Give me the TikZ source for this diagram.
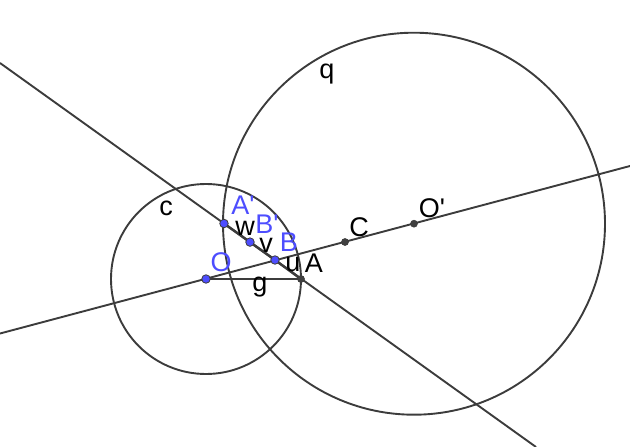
\documentclass[tikz,border=0pt]{standalone}
\usepackage{fontspec}
\setmainfont{Liberation Sans}[Ligatures=TeXOff]
\definecolor{ggblue}{RGB}{77,77,255}
\definecolor{ggline}{RGB}{60,60,60}
\definecolor{ggdot}{RGB}{64,64,64}
\newcommand{\pr}{'}
\tikzset{
  gline/.style={ggline, line width=1.9pt},
  gseg/.style={ggline, line width=2.5pt},
  bluept/.style={circle, fill=ggblue, draw=ggline, line width=0.8pt, inner sep=0pt, minimum size=8.5pt},
  blackpt/.style={circle, fill=ggdot, draw=ggline, line width=0.6pt, inner sep=0pt, minimum size=7pt},
  lab/.style={font=\fontsize{27}{27}\selectfont, inner sep=0pt, text=black},
  blab/.style={lab, text=ggblue},
}
\begin{document}
\begin{tikzpicture}[x=1pt,y=-1pt]
\useasboundingbox (0,0) rectangle (630,447);
% line ends
\coordinate (L1) at (0,63);
\coordinate (L2) at (536,447);
\coordinate (M1) at (0,333.5);
\coordinate (M2) at (630,166);
% points
\coordinate (pO) at (206,279);
\coordinate (pA) at (301,279);
\coordinate (pAp) at (224,223.5);
\coordinate (pBp) at (250,242.1);
\coordinate (pB) at (275,260);
\coordinate (pC) at (345,242);
\coordinate (pOp) at (414,223.7);
% circles
\draw[gline] (pO) circle[radius=95];
\draw[gline] (pOp) circle[radius=191];
% lines
\draw[gline] (L1) -- (L2);
\draw[gline] (M1) -- (M2);
% segments
\draw[gline] (pO) -- (pA);
\draw[gseg] (pAp) -- (pBp);
\draw[gseg] (pBp) -- (pB);
\draw[gseg] (pB) -- (pA);
% dots
\node[blackpt] (A) at (pA) {};
\node[blackpt] (C) at (pC) {};
\node[blackpt] (Op) at (pOp) {};
\node[bluept] (O) at (pO) {};
\node[bluept] (Ap) at (pAp) {};
\node[bluept] (Bp) at (pBp) {};
\node[bluept] (B) at (pB) {};
% labels
\node[lab] (lq) at (327,74) {q};
\node[lab] (lc) at (166,208) {c};
\node[blab] (lAp) at (243,205) {A\pr};
\node[lab] (lw) at (245,228) {w};
\node[blab] (lBp) at (267,224) {B\pr};
\node[lab] (lv) at (266,245) {v};
\node[blab] (lB) at (289,242) {B};
\node[lab] (lu) at (293,264) {u};
\node[lab] (lA) at (314,263) {A};
\node[blab] (lO) at (221,262) {O};
\node[lab] (lg) at (260,287) {g};
\node[lab] (lC) at (359,227) {C};
\node[lab] (lOp) at (432,208) {O\pr};
\end{tikzpicture}
\end{document}
